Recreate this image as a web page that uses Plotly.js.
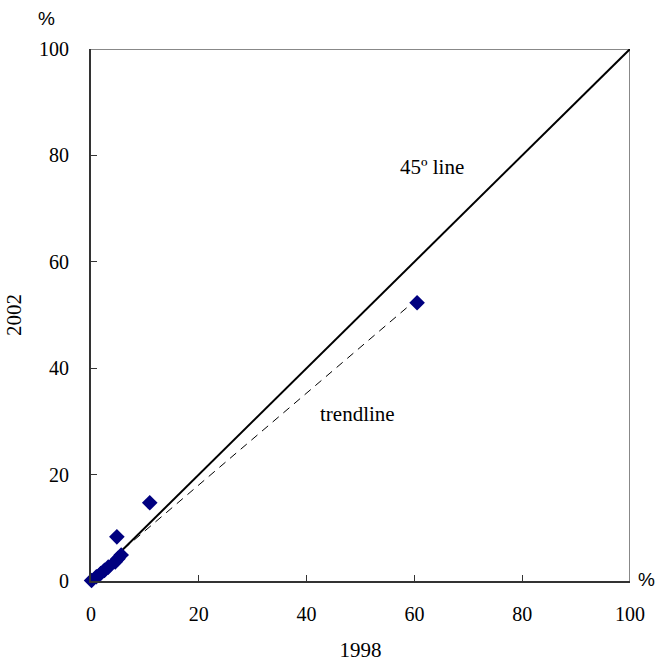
<!DOCTYPE html>
<html>
<head>
<meta charset="utf-8">
<script src="https://cdn.plot.ly/plotly-3.0.1.min.js"></script>
<style>html,body{margin:0;padding:0;background:#fff;}#chart{width:658px;height:666px;}</style>
</head>
<body>
<div id="chart"></div>
<script>
// Share (%) in 1998 vs 2002
const x1998 = [0.1, 1.0, 1.8, 2.5, 3.2, 4.5, 5.0, 5.6, 4.8, 10.9, 60.5];
const y2002 = [0.1, 0.8, 1.4, 2.0, 2.6, 3.6, 4.2, 4.9, 8.3, 14.7, 52.3];
const diagX = [0, 100];
const diagY = [0, 100];
const tickVals = [0, 20, 40, 60, 80, 100];

// least-squares trendline computed from the data
const n = x1998.length;
const mx = x1998.reduce((a,b)=>a+b,0)/n;
const my = y2002.reduce((a,b)=>a+b,0)/n;
let sxy = 0, sxx = 0;
for (let i = 0; i < n; i++) { sxy += (x1998[i]-mx)*(y2002[i]-my); sxx += (x1998[i]-mx)**2; }
const slope = sxy/sxx, icpt = my - slope*mx;
const tx = [Math.min(...x1998), Math.max(...x1998)];
const ty = tx.map(v => icpt + slope*v);

const serif = 'Liberation Serif, Times New Roman, serif';
const sans = 'Liberation Sans, Arial, sans-serif';
const traces = [
  {x: diagX, y: diagY, mode: 'lines', line: {color: '#000', width: 2}, hoverinfo: 'skip', cliponaxis: false},
  {x: tx, y: ty, mode: 'lines', line: {color: '#000', width: 1, dash: '8px,6px'}, hoverinfo: 'skip'},
  {x: x1998, y: y2002, mode: 'markers', cliponaxis: false, marker: {symbol: 'diamond', size: 12, color: '#000080'}}
];
const axisCommon = {
  range: [0, 100], tickvals: tickVals, ticks: 'inside', ticklen: 6, tickwidth: 1, tickcolor: '#333',
  showline: true, linecolor: '#333', linewidth: 2, showgrid: false, zeroline: false,
  tickfont: {family: serif, size: 20, color: '#000'}, fixedrange: true
};
const layout = {
  width: 658, height: 666,
  margin: {l: 91, r: 28, t: 49, b: 85},
  paper_bgcolor: '#fff', plot_bgcolor: '#fff',
  showlegend: false,
  xaxis: Object.assign({}, axisCommon, {ticklabelstandoff: 14,
    title: {text: '1998', font: {family: serif, size: 21, color: '#000'}, standoff: 18}}),
  yaxis: Object.assign({}, axisCommon, {ticklabelstandoff: 16,
    title: {text: '2002', font: {family: serif, size: 21, color: '#000'}, standoff: 12}}),
  shapes: [
    {type: 'line', xref: 'x', yref: 'y', x0: 0, x1: 100, y0: 100, y1: 100, line: {color: '#888', width: 2}, layer: 'below'},
    {type: 'line', xref: 'x', yref: 'y', x0: 100, x1: 100, y0: 0, y1: 100, line: {color: '#888', width: 2}, layer: 'below'}
  ],
  annotations: [
    {x: 63.3, y: 77.8, xref: 'x', yref: 'y', text: '45º line', showarrow: false, font: {family: serif, size: 21, color: '#000'}},
    {x: 49.4, y: 31.4, xref: 'x', yref: 'y', text: 'trendline', showarrow: false, font: {family: serif, size: 21, color: '#000'}},
    {x: -0.082, y: 1.058, xref: 'paper', yref: 'paper', xanchor: 'center', yanchor: 'middle', text: '%', showarrow: false, font: {family: sans, size: 19, color: '#000'}},
    {x: 1.0315, y: 0.002, xref: 'paper', yref: 'paper', xanchor: 'center', yanchor: 'middle', text: '%', showarrow: false, font: {family: sans, size: 19, color: '#000'}}
  ]
};
Plotly.newPlot('chart', traces, layout, {displayModeBar: false, staticPlot: true});
</script>
</body>
</html>
